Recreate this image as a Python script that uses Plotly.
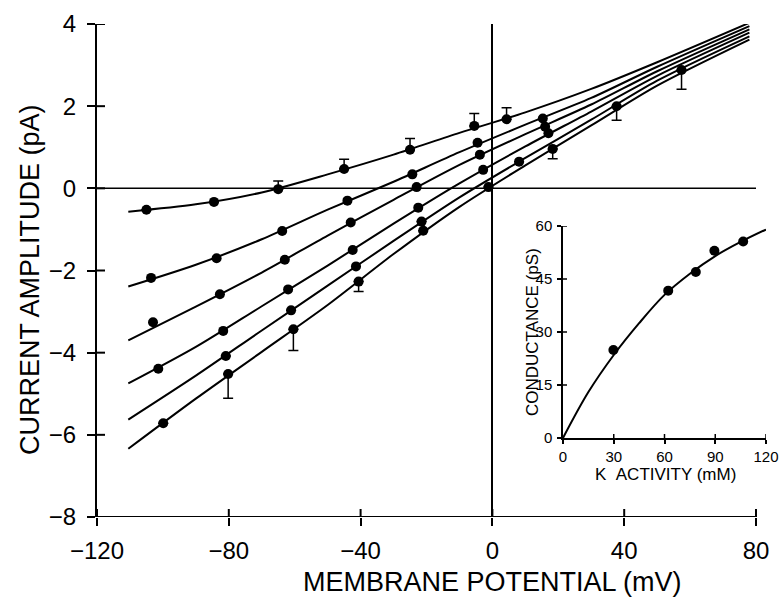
import plotly.graph_objects as go

# ---------------- data ----------------
# main panel: membrane potential (mV) vs current amplitude (pA), six families
c1_v = [-105, -84.5, -65, -45, -25, -5.5, 4.3]
c1_i = [-0.52, -0.33, -0.02, 0.47, 0.94, 1.52, 1.68]
c1_up = [0, 0, 0.20, 0.24, 0.27, 0.30, 0.28]

c2_v = [-103.6, -83.7, -63.8, -44, -24.3, -4.5, 15.3]
c2_i = [-2.18, -1.70, -1.04, -0.30, 0.34, 1.11, 1.70]

c3_v = [-103, -82.7, -63, -43, -23, -3.8, 16]
c3_i = [-3.26, -2.58, -1.74, -0.83, 0.03, 0.82, 1.50]

c4_v = [-101.4, -81.7, -62, -42.4, -22.5, -2.8, 17]
c4_i = [-4.39, -3.47, -2.46, -1.50, -0.47, 0.45, 1.34]

c5_v = [-80.9, -61.1, -41.4, -21.5, 8.1, 37.7]
c5_i = [-4.08, -2.97, -1.90, -0.81, 0.65, 2.00]
c5_dn = [0, 0, 0, 0, 0, 0.34]

c6_v = [-99.9, -80.2, -60.4, -40.6, -21, -1.2, 18.3, 57.4]
c6_i = [-5.72, -4.52, -3.43, -2.27, -1.03, 0.03, 0.96, 2.88]
c6_dn = [0, 0.59, 0.52, 0.24, 0, 0, 0.24, 0.47]

# fitted curves, vertices
fit_v = [-110.5, -90, -70, -50, -30, -10, 10, 30, 50, 78]
fit1 = [-0.57, -0.39, -0.10, 0.34, 0.82, 1.35, 1.85, 2.42, 3.07, 4.03]
fit2 = [-2.39, -1.86, -1.24, -0.52, 0.16, 0.88, 1.55, 2.20, 2.96, 3.95]
fit3 = [-3.70, -2.88, -2.05, -1.15, -0.28, 0.57, 1.32, 2.04, 2.85, 3.87]
fit4 = [-4.75, -3.86, -2.87, -1.88, -0.86, 0.12, 1.02, 1.87, 2.74, 3.79]
fit5 = [-5.63, -4.56, -3.46, -2.37, -1.28, -0.22, 0.74, 1.67, 2.62, 3.70]
fit6 = [-6.34, -5.12, -3.98, -2.84, -1.60, -0.45, 0.56, 1.53, 2.50, 3.62]

x_ticks = [-120, -80, -40, 0, 40, 80]
x_ticktext = ["\u2212120", "\u221280", "\u221240", "0", "40", "80"]
y_ticks = [-8, -6, -4, -2, 0, 2, 4]
y_ticktext = ["\u22128", "\u22126", "\u22124", "\u22122", "0", "2", "4"]

# inset: conductance vs K activity
k_act = [29.8, 62.2, 78.5, 89.5, 106.5]
g_ps = [24.9, 41.7, 47.0, 53.0, 55.6]
k_fit = [0, 15, 30, 45, 60, 75, 90, 105, 120]
g_fit = [0, 13.0, 23.5, 32.5, 40.5, 46.5, 51.5, 55.5, 59.0]
ix_ticks = [0, 30, 60, 90, 120]
iy_ticks = [0, 15, 30, 45, 60]

# ---------------- figure ----------------
FONT = "Liberation Sans, Arial, sans-serif"
fig = go.Figure()

line_style = dict(color="black", width=2, shape="spline", smoothing=0.8)
for f in [fit1, fit2, fit3, fit4, fit5, fit6]:
    fig.add_trace(go.Scatter(x=fit_v, y=f, mode="lines", line=line_style,
                             hoverinfo="skip", showlegend=False))

mk = dict(color="black", size=10)
eb = dict(color="black", thickness=1.5, width=5)

def pts(v, i, up=None, dn=None):
    kw = {}
    if up is not None or dn is not None:
        kw["error_y"] = dict(type="data", symmetric=False,
                             array=up if up is not None else [0] * len(v),
                             arrayminus=dn if dn is not None else [0] * len(v),
                             **eb)
    fig.add_trace(go.Scatter(x=v, y=i, mode="markers", marker=mk,
                             showlegend=False, **kw))

pts(c1_v, c1_i, up=c1_up)
pts(c2_v, c2_i)
pts(c3_v, c3_i)
pts(c4_v, c4_i)
pts(c5_v, c5_i, dn=c5_dn)
pts(c6_v, c6_i, dn=c6_dn)

# inset traces
fig.add_trace(go.Scatter(x=k_fit, y=g_fit, mode="lines", xaxis="x2", yaxis="y2",
                         line=dict(color="black", width=2, shape="spline"),
                         showlegend=False, hoverinfo="skip"))
fig.add_trace(go.Scatter(x=k_act, y=g_ps, mode="markers", xaxis="x2", yaxis="y2",
                         marker=dict(color="black", size=10), showlegend=False))

# geometry (pixels)
W, H = 780, 599
L, R, T, B = 97, 10, 24, 82
pw = W - L - R
ph = H - T - B
mv_per_px = 200.0 / 659.0
x_max = -120 + pw * mv_per_px

def px_x(p):
    return (p - L) / pw

def px_y(p):
    return (H - B - p) / ph

shapes = []
# main x axis line and zero lines
shapes.append(dict(type="line", xref="x", yref="y", x0=-120, x1=80, y0=-8, y1=-8,
                   line=dict(color="black", width=2)))
shapes.append(dict(type="line", xref="x", yref="y", x0=-120, x1=80, y0=0, y1=0,
                   line=dict(color="black", width=1.5)))
# inner halves of crossing ticks
for t in x_ticks:
    shapes.append(dict(type="line", xref="x", yref="y", ysizemode="pixel", yanchor=-8,
                       x0=t, x1=t, y0=0, y1=8, line=dict(color="black", width=2)))
for t in y_ticks:
    shapes.append(dict(type="line", xref="x", yref="y", xsizemode="pixel", xanchor=-120,
                       y0=t, y1=t, x0=0, x1=8, line=dict(color="black", width=2)))
for t in ix_ticks[1:]:
    shapes.append(dict(type="line", xref="x2", yref="y2", ysizemode="pixel", yanchor=0,
                       x0=t, x1=t, y0=0, y1=4, line=dict(color="black", width=1.5)))
for t in iy_ticks[1:]:
    shapes.append(dict(type="line", xref="x2", yref="y2", xsizemode="pixel", xanchor=0,
                       y0=t, y1=t, x0=0, x1=4, line=dict(color="black", width=1.5)))

annotations = [
    dict(text="MEMBRANE POTENTIAL (mV)", xref="paper", yref="paper",
         x=px_x(492), y=px_y(582), xanchor="center", yanchor="middle",
         showarrow=False, font=dict(family=FONT, size=27, color="black")),
    dict(text="CURRENT AMPLITUDE (pA)", xref="paper", yref="paper",
         x=px_x(30), y=px_y(280), xanchor="center", yanchor="middle", textangle=-90,
         showarrow=False, font=dict(family=FONT, size=27, color="black")),
    dict(text="K\u00a0\u00a0ACTIVITY (mM)", xref="paper", yref="paper",
         x=px_x(665), y=px_y(474), xanchor="center", yanchor="middle",
         showarrow=False, font=dict(family=FONT, size=17, color="black")),
    dict(text="CONDUCTANCE (pS)", xref="paper", yref="paper",
         x=px_x(532), y=px_y(332), xanchor="center", yanchor="middle", textangle=-90,
         showarrow=False, font=dict(family=FONT, size=17, color="black")),
]

fig.update_layout(
    width=W, height=H,
    margin=dict(l=L, r=R, t=T, b=B, pad=0, autoexpand=False),
    paper_bgcolor="white", plot_bgcolor="rgba(0,0,0,0)",
    font=dict(family=FONT, color="black"),
    showlegend=False,
    xaxis=dict(range=[-120, x_max], tickvals=x_ticks, ticktext=x_ticktext,
               ticks="outside", ticklen=8, tickwidth=2, tickcolor="black",
               ticklabelstandoff=4, automargin=False,
               showline=False, showgrid=False,
               zeroline=True, zerolinecolor="black", zerolinewidth=1.5,
               tickfont=dict(size=24, family=FONT, color="black")),
    yaxis=dict(range=[-8, 4], tickvals=y_ticks, ticktext=y_ticktext,
               ticks="outside", ticklen=8, tickwidth=2, tickcolor="black",
               ticklabelstandoff=6, automargin=False,
               showline=True, linecolor="black", linewidth=2,
               showgrid=False, zeroline=False,
               tickfont=dict(size=24, family=FONT, color="black")),
    xaxis2=dict(domain=[px_x(563), px_x(766)], anchor="y2", range=[0, 120],
                tickvals=ix_ticks, ticks="outside", ticklen=4, tickwidth=1.5,
                tickcolor="black", showline=True, linecolor="black", linewidth=1.5,
                showgrid=False, zeroline=False, automargin=False,
                tickfont=dict(size=15, family=FONT, color="black")),
    yaxis2=dict(domain=[px_y(438), px_y(226)], anchor="x2", range=[0, 60],
                tickvals=iy_ticks, ticks="outside", ticklen=4, tickwidth=1.5,
                tickcolor="black", showline=True, linecolor="black", linewidth=1.5,
                showgrid=False, zeroline=False, automargin=False,
                ticklabelstandoff=2,
                tickfont=dict(size=15, family=FONT, color="black")),
    shapes=shapes,
    annotations=annotations,
)

fig.write_html("out.html",
               config={"displayModeBar": False},
               post_script="document.body.style.margin='0';"
                           "document.body.style.overflow='hidden';")
